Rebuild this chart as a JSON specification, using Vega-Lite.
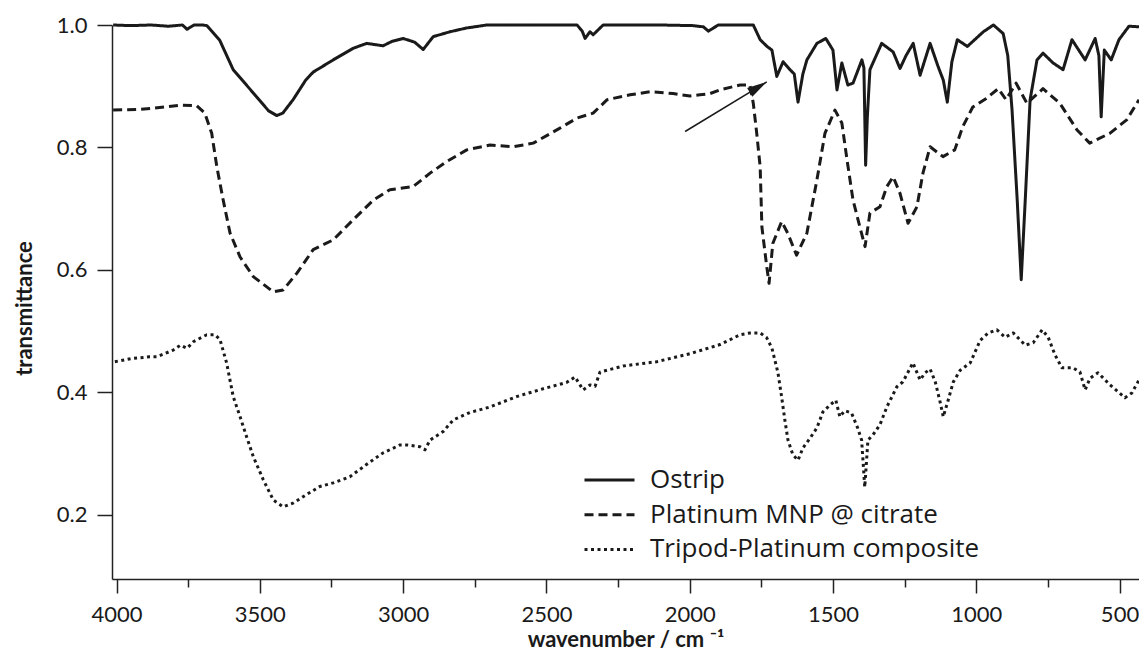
{
  "$schema": "https://vega.github.io/schema/vega-lite/v6.json",
  "width": 1027,
  "height": 554,
  "autosize": {"type": "none"},
  "padding": {"left": 112, "top": 25, "right": 0, "bottom": 75},
  "background": "white",
  "config": {"view": {"stroke": null}, "font": "Lato"},
  "datasets": {
    "spectra": [
      {"series":"Ostrip","wn":4012,"t":1.0},{"series":"Ostrip","wn":3950,"t":0.999},{"series":"Ostrip","wn":3880,"t":1.0},{"series":"Ostrip","wn":3820,"t":0.998},{"series":"Ostrip","wn":3770,"t":1.0},{"series":"Ostrip","wn":3754,"t":0.993},{"series":"Ostrip","wn":3730,"t":1.0},{"series":"Ostrip","wn":3700,"t":1.0},{"series":"Ostrip","wn":3685,"t":0.999},{"series":"Ostrip","wn":3640,"t":0.975},{"series":"Ostrip","wn":3593,"t":0.927},{"series":"Ostrip","wn":3523,"t":0.889},{"series":"Ostrip","wn":3470,"t":0.86},{"series":"Ostrip","wn":3441,"t":0.852},{"series":"Ostrip","wn":3420,"t":0.856},{"series":"Ostrip","wn":3384,"t":0.878},{"series":"Ostrip","wn":3340,"t":0.91},{"series":"Ostrip","wn":3314,"t":0.923},{"series":"Ostrip","wn":3244,"t":0.943},{"series":"Ostrip","wn":3174,"t":0.962},{"series":"Ostrip","wn":3127,"t":0.970},{"series":"Ostrip","wn":3070,"t":0.966},{"series":"Ostrip","wn":3040,"t":0.973},{"series":"Ostrip","wn":3000,"t":0.978},{"series":"Ostrip","wn":2960,"t":0.972},{"series":"Ostrip","wn":2930,"t":0.96},{"series":"Ostrip","wn":2895,"t":0.981},{"series":"Ostrip","wn":2836,"t":0.989},{"series":"Ostrip","wn":2780,"t":0.995},{"series":"Ostrip","wn":2708,"t":1.0},{"series":"Ostrip","wn":2581,"t":1.0},{"series":"Ostrip","wn":2393,"t":1.0},{"series":"Ostrip","wn":2375,"t":0.99},{"series":"Ostrip","wn":2365,"t":0.978},{"series":"Ostrip","wn":2348,"t":0.989},{"series":"Ostrip","wn":2337,"t":0.984},{"series":"Ostrip","wn":2302,"t":1.0},{"series":"Ostrip","wn":2200,"t":1.0},{"series":"Ostrip","wn":2100,"t":1.0},{"series":"Ostrip","wn":1990,"t":0.999},{"series":"Ostrip","wn":1952,"t":0.997},{"series":"Ostrip","wn":1935,"t":0.99},{"series":"Ostrip","wn":1900,"t":1.0},{"series":"Ostrip","wn":1849,"t":1.0},{"series":"Ostrip","wn":1778,"t":1.0},{"series":"Ostrip","wn":1754,"t":0.976},{"series":"Ostrip","wn":1730,"t":0.965},{"series":"Ostrip","wn":1713,"t":0.959},{"series":"Ostrip","wn":1696,"t":0.916},{"series":"Ostrip","wn":1674,"t":0.94},{"series":"Ostrip","wn":1650,"t":0.927},{"series":"Ostrip","wn":1635,"t":0.92},{"series":"Ostrip","wn":1622,"t":0.874},{"series":"Ostrip","wn":1605,"t":0.92},{"series":"Ostrip","wn":1591,"t":0.943},{"series":"Ostrip","wn":1556,"t":0.970},{"series":"Ostrip","wn":1525,"t":0.978},{"series":"Ostrip","wn":1500,"t":0.959},{"series":"Ostrip","wn":1486,"t":0.894},{"series":"Ostrip","wn":1469,"t":0.938},{"series":"Ostrip","wn":1448,"t":0.902},{"series":"Ostrip","wn":1430,"t":0.905},{"series":"Ostrip","wn":1399,"t":0.943},{"series":"Ostrip","wn":1392,"t":0.93},{"series":"Ostrip","wn":1386,"t":0.771},{"series":"Ostrip","wn":1380,"t":0.85},{"series":"Ostrip","wn":1371,"t":0.927},{"series":"Ostrip","wn":1330,"t":0.970},{"series":"Ostrip","wn":1290,"t":0.956},{"series":"Ostrip","wn":1266,"t":0.929},{"series":"Ostrip","wn":1245,"t":0.95},{"series":"Ostrip","wn":1220,"t":0.970},{"series":"Ostrip","wn":1196,"t":0.918},{"series":"Ostrip","wn":1161,"t":0.970},{"series":"Ostrip","wn":1133,"t":0.932},{"series":"Ostrip","wn":1115,"t":0.91},{"series":"Ostrip","wn":1101,"t":0.874},{"series":"Ostrip","wn":1085,"t":0.94},{"series":"Ostrip","wn":1066,"t":0.976},{"series":"Ostrip","wn":1031,"t":0.965},{"series":"Ostrip","wn":975,"t":0.989},{"series":"Ostrip","wn":940,"t":1.0},{"series":"Ostrip","wn":906,"t":0.986},{"series":"Ostrip","wn":890,"t":0.95},{"series":"Ostrip","wn":875,"t":0.861},{"series":"Ostrip","wn":857,"t":0.714},{"series":"Ostrip","wn":843,"t":0.584},{"series":"Ostrip","wn":829,"t":0.714},{"series":"Ostrip","wn":812,"t":0.878},{"series":"Ostrip","wn":788,"t":0.943},{"series":"Ostrip","wn":767,"t":0.954},{"series":"Ostrip","wn":732,"t":0.938},{"series":"Ostrip","wn":697,"t":0.927},{"series":"Ostrip","wn":666,"t":0.976},{"series":"Ostrip","wn":620,"t":0.943},{"series":"Ostrip","wn":585,"t":0.978},{"series":"Ostrip","wn":572,"t":0.95},{"series":"Ostrip","wn":564,"t":0.85},{"series":"Ostrip","wn":553,"t":0.959},{"series":"Ostrip","wn":529,"t":0.943},{"series":"Ostrip","wn":502,"t":0.976},{"series":"Ostrip","wn":467,"t":0.998},{"series":"Ostrip","wn":432,"t":0.997},
      {"series":"Platinum MNP @ citrate","wn":4012,"t":0.861},{"series":"Platinum MNP @ citrate","wn":3930,"t":0.862},{"series":"Platinum MNP @ citrate","wn":3872,"t":0.864},{"series":"Platinum MNP @ citrate","wn":3778,"t":0.869},{"series":"Platinum MNP @ citrate","wn":3720,"t":0.868},{"series":"Platinum MNP @ citrate","wn":3692,"t":0.856},{"series":"Platinum MNP @ citrate","wn":3668,"t":0.823},{"series":"Platinum MNP @ citrate","wn":3650,"t":0.768},{"series":"Platinum MNP @ citrate","wn":3628,"t":0.714},{"series":"Platinum MNP @ citrate","wn":3604,"t":0.660},{"series":"Platinum MNP @ citrate","wn":3569,"t":0.621},{"series":"Platinum MNP @ citrate","wn":3523,"t":0.589},{"series":"Platinum MNP @ citrate","wn":3453,"t":0.564},{"series":"Platinum MNP @ citrate","wn":3419,"t":0.567},{"series":"Platinum MNP @ citrate","wn":3370,"t":0.595},{"series":"Platinum MNP @ citrate","wn":3314,"t":0.633},{"series":"Platinum MNP @ citrate","wn":3244,"t":0.649},{"series":"Platinum MNP @ citrate","wn":3174,"t":0.682},{"series":"Platinum MNP @ citrate","wn":3104,"t":0.714},{"series":"Platinum MNP @ citrate","wn":3046,"t":0.731},{"series":"Platinum MNP @ citrate","wn":2965,"t":0.736},{"series":"Platinum MNP @ citrate","wn":2906,"t":0.758},{"series":"Platinum MNP @ citrate","wn":2848,"t":0.777},{"series":"Platinum MNP @ citrate","wn":2778,"t":0.796},{"series":"Platinum MNP @ citrate","wn":2697,"t":0.804},{"series":"Platinum MNP @ citrate","wn":2616,"t":0.801},{"series":"Platinum MNP @ citrate","wn":2546,"t":0.807},{"series":"Platinum MNP @ citrate","wn":2462,"t":0.829},{"series":"Platinum MNP @ citrate","wn":2393,"t":0.848},{"series":"Platinum MNP @ citrate","wn":2337,"t":0.856},{"series":"Platinum MNP @ citrate","wn":2288,"t":0.878},{"series":"Platinum MNP @ citrate","wn":2208,"t":0.886},{"series":"Platinum MNP @ citrate","wn":2138,"t":0.891},{"series":"Platinum MNP @ citrate","wn":2058,"t":0.888},{"series":"Platinum MNP @ citrate","wn":1999,"t":0.884},{"series":"Platinum MNP @ citrate","wn":1964,"t":0.886},{"series":"Platinum MNP @ citrate","wn":1929,"t":0.888},{"series":"Platinum MNP @ citrate","wn":1894,"t":0.894},{"series":"Platinum MNP @ citrate","wn":1824,"t":0.902},{"series":"Platinum MNP @ citrate","wn":1790,"t":0.902},{"series":"Platinum MNP @ citrate","wn":1778,"t":0.872},{"series":"Platinum MNP @ citrate","wn":1766,"t":0.823},{"series":"Platinum MNP @ citrate","wn":1754,"t":0.768},{"series":"Platinum MNP @ citrate","wn":1748,"t":0.670},{"series":"Platinum MNP @ citrate","wn":1731,"t":0.605},{"series":"Platinum MNP @ citrate","wn":1723,"t":0.578},{"series":"Platinum MNP @ citrate","wn":1710,"t":0.643},{"series":"Platinum MNP @ citrate","wn":1679,"t":0.679},{"series":"Platinum MNP @ citrate","wn":1658,"t":0.660},{"series":"Platinum MNP @ citrate","wn":1627,"t":0.624},{"series":"Platinum MNP @ citrate","wn":1591,"t":0.660},{"series":"Platinum MNP @ citrate","wn":1556,"t":0.747},{"series":"Platinum MNP @ citrate","wn":1528,"t":0.823},{"series":"Platinum MNP @ citrate","wn":1493,"t":0.861},{"series":"Platinum MNP @ citrate","wn":1469,"t":0.840},{"series":"Platinum MNP @ citrate","wn":1451,"t":0.780},{"series":"Platinum MNP @ citrate","wn":1430,"t":0.714},{"series":"Platinum MNP @ citrate","wn":1406,"t":0.670},{"series":"Platinum MNP @ citrate","wn":1388,"t":0.638},{"series":"Platinum MNP @ citrate","wn":1371,"t":0.693},{"series":"Platinum MNP @ citrate","wn":1336,"t":0.703},{"series":"Platinum MNP @ citrate","wn":1312,"t":0.736},{"series":"Platinum MNP @ citrate","wn":1290,"t":0.752},{"series":"Platinum MNP @ citrate","wn":1266,"t":0.725},{"series":"Platinum MNP @ citrate","wn":1238,"t":0.676},{"series":"Platinum MNP @ citrate","wn":1207,"t":0.703},{"series":"Platinum MNP @ citrate","wn":1186,"t":0.758},{"series":"Platinum MNP @ citrate","wn":1161,"t":0.801},{"series":"Platinum MNP @ citrate","wn":1116,"t":0.785},{"series":"Platinum MNP @ citrate","wn":1075,"t":0.796},{"series":"Platinum MNP @ citrate","wn":1047,"t":0.834},{"series":"Platinum MNP @ citrate","wn":1012,"t":0.866},{"series":"Platinum MNP @ citrate","wn":965,"t":0.880},{"series":"Platinum MNP @ citrate","wn":923,"t":0.896},{"series":"Platinum MNP @ citrate","wn":896,"t":0.878},{"series":"Platinum MNP @ citrate","wn":861,"t":0.905},{"series":"Platinum MNP @ citrate","wn":823,"t":0.872},{"series":"Platinum MNP @ citrate","wn":767,"t":0.896},{"series":"Platinum MNP @ citrate","wn":708,"t":0.872},{"series":"Platinum MNP @ citrate","wn":649,"t":0.829},{"series":"Platinum MNP @ citrate","wn":604,"t":0.807},{"series":"Platinum MNP @ citrate","wn":534,"t":0.823},{"series":"Platinum MNP @ citrate","wn":475,"t":0.845},{"series":"Platinum MNP @ citrate","wn":432,"t":0.878},
      {"series":"Tripod-Platinum composite","wn":4006,"t":0.450},{"series":"Tripod-Platinum composite","wn":3950,"t":0.455},{"series":"Tripod-Platinum composite","wn":3884,"t":0.458},{"series":"Tripod-Platinum composite","wn":3860,"t":0.458},{"series":"Tripod-Platinum composite","wn":3802,"t":0.469},{"series":"Tripod-Platinum composite","wn":3777,"t":0.477},{"series":"Tripod-Platinum composite","wn":3754,"t":0.472},{"series":"Tripod-Platinum composite","wn":3731,"t":0.483},{"series":"Tripod-Platinum composite","wn":3685,"t":0.494},{"series":"Tripod-Platinum composite","wn":3656,"t":0.494},{"series":"Tripod-Platinum composite","wn":3639,"t":0.486},{"series":"Tripod-Platinum composite","wn":3616,"t":0.448},{"series":"Tripod-Platinum composite","wn":3593,"t":0.393},{"series":"Tripod-Platinum composite","wn":3569,"t":0.360},{"series":"Tripod-Platinum composite","wn":3546,"t":0.327},{"series":"Tripod-Platinum composite","wn":3523,"t":0.295},{"series":"Tripod-Platinum composite","wn":3488,"t":0.257},{"series":"Tripod-Platinum composite","wn":3453,"t":0.224},{"series":"Tripod-Platinum composite","wn":3419,"t":0.213},{"series":"Tripod-Platinum composite","wn":3384,"t":0.219},{"series":"Tripod-Platinum composite","wn":3337,"t":0.233},{"series":"Tripod-Platinum composite","wn":3291,"t":0.246},{"series":"Tripod-Platinum composite","wn":3244,"t":0.252},{"series":"Tripod-Platinum composite","wn":3186,"t":0.262},{"series":"Tripod-Platinum composite","wn":3128,"t":0.282},{"series":"Tripod-Platinum composite","wn":3070,"t":0.301},{"series":"Tripod-Platinum composite","wn":3011,"t":0.314},{"series":"Tripod-Platinum composite","wn":2987,"t":0.314},{"series":"Tripod-Platinum composite","wn":2941,"t":0.311},{"series":"Tripod-Platinum composite","wn":2924,"t":0.306},{"series":"Tripod-Platinum composite","wn":2906,"t":0.322},{"series":"Tripod-Platinum composite","wn":2860,"t":0.336},{"series":"Tripod-Platinum composite","wn":2825,"t":0.355},{"series":"Tripod-Platinum composite","wn":2767,"t":0.367},{"series":"Tripod-Platinum composite","wn":2697,"t":0.376},{"series":"Tripod-Platinum composite","wn":2604,"t":0.393},{"series":"Tripod-Platinum composite","wn":2502,"t":0.407},{"series":"Tripod-Platinum composite","wn":2430,"t":0.416},{"series":"Tripod-Platinum composite","wn":2400,"t":0.425},{"series":"Tripod-Platinum composite","wn":2372,"t":0.404},{"series":"Tripod-Platinum composite","wn":2348,"t":0.412},{"series":"Tripod-Platinum composite","wn":2330,"t":0.41},{"series":"Tripod-Platinum composite","wn":2313,"t":0.433},{"series":"Tripod-Platinum composite","wn":2232,"t":0.443},{"series":"Tripod-Platinum composite","wn":2115,"t":0.450},{"series":"Tripod-Platinum composite","wn":1999,"t":0.463},{"series":"Tripod-Platinum composite","wn":1894,"t":0.478},{"series":"Tripod-Platinum composite","wn":1824,"t":0.494},{"series":"Tripod-Platinum composite","wn":1789,"t":0.497},{"series":"Tripod-Platinum composite","wn":1754,"t":0.497},{"series":"Tripod-Platinum composite","wn":1731,"t":0.489},{"series":"Tripod-Platinum composite","wn":1713,"t":0.472},{"series":"Tripod-Platinum composite","wn":1703,"t":0.453},{"series":"Tripod-Platinum composite","wn":1692,"t":0.432},{"series":"Tripod-Platinum composite","wn":1679,"t":0.392},{"series":"Tripod-Platinum composite","wn":1668,"t":0.355},{"series":"Tripod-Platinum composite","wn":1657,"t":0.322},{"series":"Tripod-Platinum composite","wn":1640,"t":0.298},{"series":"Tripod-Platinum composite","wn":1622,"t":0.289},{"series":"Tripod-Platinum composite","wn":1605,"t":0.309},{"series":"Tripod-Platinum composite","wn":1580,"t":0.325},{"series":"Tripod-Platinum composite","wn":1556,"t":0.342},{"series":"Tripod-Platinum composite","wn":1535,"t":0.368},{"series":"Tripod-Platinum composite","wn":1511,"t":0.379},{"series":"Tripod-Platinum composite","wn":1490,"t":0.387},{"series":"Tripod-Platinum composite","wn":1476,"t":0.360},{"series":"Tripod-Platinum composite","wn":1459,"t":0.370},{"series":"Tripod-Platinum composite","wn":1435,"t":0.366},{"series":"Tripod-Platinum composite","wn":1414,"t":0.342},{"series":"Tripod-Platinum composite","wn":1400,"t":0.322},{"series":"Tripod-Platinum composite","wn":1389,"t":0.245},{"series":"Tripod-Platinum composite","wn":1378,"t":0.322},{"series":"Tripod-Platinum composite","wn":1361,"t":0.330},{"series":"Tripod-Platinum composite","wn":1336,"t":0.347},{"series":"Tripod-Platinum composite","wn":1312,"t":0.376},{"series":"Tripod-Platinum composite","wn":1295,"t":0.392},{"series":"Tripod-Platinum composite","wn":1277,"t":0.409},{"series":"Tripod-Platinum composite","wn":1256,"t":0.417},{"series":"Tripod-Platinum composite","wn":1239,"t":0.432},{"series":"Tripod-Platinum composite","wn":1221,"t":0.448},{"series":"Tripod-Platinum composite","wn":1196,"t":0.42},{"series":"Tripod-Platinum composite","wn":1178,"t":0.432},{"series":"Tripod-Platinum composite","wn":1161,"t":0.438},{"series":"Tripod-Platinum composite","wn":1143,"t":0.417},{"series":"Tripod-Platinum composite","wn":1126,"t":0.384},{"series":"Tripod-Platinum composite","wn":1115,"t":0.360},{"series":"Tripod-Platinum composite","wn":1098,"t":0.387},{"series":"Tripod-Platinum composite","wn":1080,"t":0.417},{"series":"Tripod-Platinum composite","wn":1056,"t":0.436},{"series":"Tripod-Platinum composite","wn":1021,"t":0.448},{"series":"Tripod-Platinum composite","wn":1004,"t":0.466},{"series":"Tripod-Platinum composite","wn":986,"t":0.485},{"series":"Tripod-Platinum composite","wn":958,"t":0.497},{"series":"Tripod-Platinum composite","wn":928,"t":0.502},{"series":"Tripod-Platinum composite","wn":899,"t":0.490},{"series":"Tripod-Platinum composite","wn":871,"t":0.497},{"series":"Tripod-Platinum composite","wn":829,"t":0.477},{"series":"Tripod-Platinum composite","wn":801,"t":0.481},{"series":"Tripod-Platinum composite","wn":770,"t":0.502},{"series":"Tripod-Platinum composite","wn":749,"t":0.490},{"series":"Tripod-Platinum composite","wn":725,"t":0.461},{"series":"Tripod-Platinum composite","wn":701,"t":0.440},{"series":"Tripod-Platinum composite","wn":662,"t":0.440},{"series":"Tripod-Platinum composite","wn":638,"t":0.433},{"series":"Tripod-Platinum composite","wn":620,"t":0.404},{"series":"Tripod-Platinum composite","wn":603,"t":0.423},{"series":"Tripod-Platinum composite","wn":575,"t":0.432},{"series":"Tripod-Platinum composite","wn":533,"t":0.412},{"series":"Tripod-Platinum composite","wn":481,"t":0.391},{"series":"Tripod-Platinum composite","wn":457,"t":0.399},{"series":"Tripod-Platinum composite","wn":432,"t":0.420}
    ],
    "arrow": [{"wn": 2016, "t": 0.826}, {"wn": 1731, "t": 0.907}],
    "head": [{"wn": 1731, "t": 0.907}]
  },
  "encoding": {
    "x": {
      "field": "wn", "type": "quantitative",
      "scale": {"domain": [432, 4016], "reverse": true, "nice": false, "zero": false},
      "axis": {
        "title": "wavenumber / cm  ⁻¹",
        "values": [500, 750, 1000, 1250, 1500, 1750, 2000, 2250, 2500, 2750, 3000, 3250, 3500, 3750, 4000],
        "format": "d",
        "labelExpr": "datum.value % 500 === 0 ? datum.label : ''",
        "tickSize": {"condition": {"test": "datum.value % 500 !== 0", "value": 8}, "value": 14},
        "tickWidth": 1.5, "tickColor": "#222222",
        "domainColor": "#222222", "domainWidth": 1.5,
        "grid": false,
        "labelFont": "Lato", "labelFontSize": 22, "labelColor": "#1a1a1a", "labelPadding": 11,
        "labelFlush": false, "labelOverlap": false,
        "titleFont": "Lato", "titleFontSize": 22, "titleFontWeight": "bold", "titleColor": "#1a1a1a",
        "titleY": 67, "titleBaseline": "alphabetic"
      }
    },
    "y": {
      "field": "t", "type": "quantitative",
      "scale": {"domain": [0.095, 1.0], "nice": false, "zero": false},
      "axis": {
        "title": "transmittance",
        "values": [0.2, 0.4, 0.6, 0.8, 1.0],
        "format": ".1f",
        "tickSize": 15, "tickWidth": 1.5, "tickColor": "#222222",
        "domainColor": "#222222", "domainWidth": 1.5,
        "grid": false,
        "labelFont": "Lato", "labelFontSize": 22, "labelColor": "#1a1a1a", "labelPadding": 10,
        "labelFlush": false, "labelOverlap": false,
        "titleFont": "Lato", "titleFontSize": 22, "titleFontWeight": "bold", "titleColor": "#1a1a1a",
        "titleX": -81, "titleY": 283, "titleAngle": 270, "titleAlign": "center", "titleBaseline": "alphabetic"
      }
    }
  },
  "layer": [
    {
      "data": {"name": "spectra"},
      "mark": {"type": "line", "strokeWidth": 3, "color": "#1a1a1a", "strokeJoin": "round", "strokeCap": "butt"},
      "encoding": {
        "strokeDash": {
          "field": "series", "type": "nominal",
          "scale": {"domain": ["Ostrip", "Platinum MNP @ citrate", "Tripod-Platinum composite"], "range": [[1, 0], [9, 5], [3, 3.5]]},
          "legend": {
            "orient": "none", "legendX": 484.5, "legendY": 442, "title": null,
            "symbolType": "M-2.5,0H2.5", "symbolSize": 400, "symbolStrokeWidth": 3, "symbolStrokeColor": "#1a1a1a",
            "labelFont": "Open Sans", "labelFontSize": 26, "labelColor": "#1a1a1a", "labelOffset": 27.5,
            "rowPadding": 8.7, "padding": 0, "labelLimit": 600
          }
        }
      }
    },
    {
      "data": {"name": "arrow"},
      "mark": {"type": "line", "strokeWidth": 1.5, "color": "#1a1a1a"}
    },
    {
      "data": {"name": "head"},
      "mark": {"type": "point", "shape": "M0,0L0.5,2L-0.5,2Z", "size": 400, "angle": 58.5, "filled": true, "color": "#1a1a1a", "opacity": 1}
    }
  ]
}
